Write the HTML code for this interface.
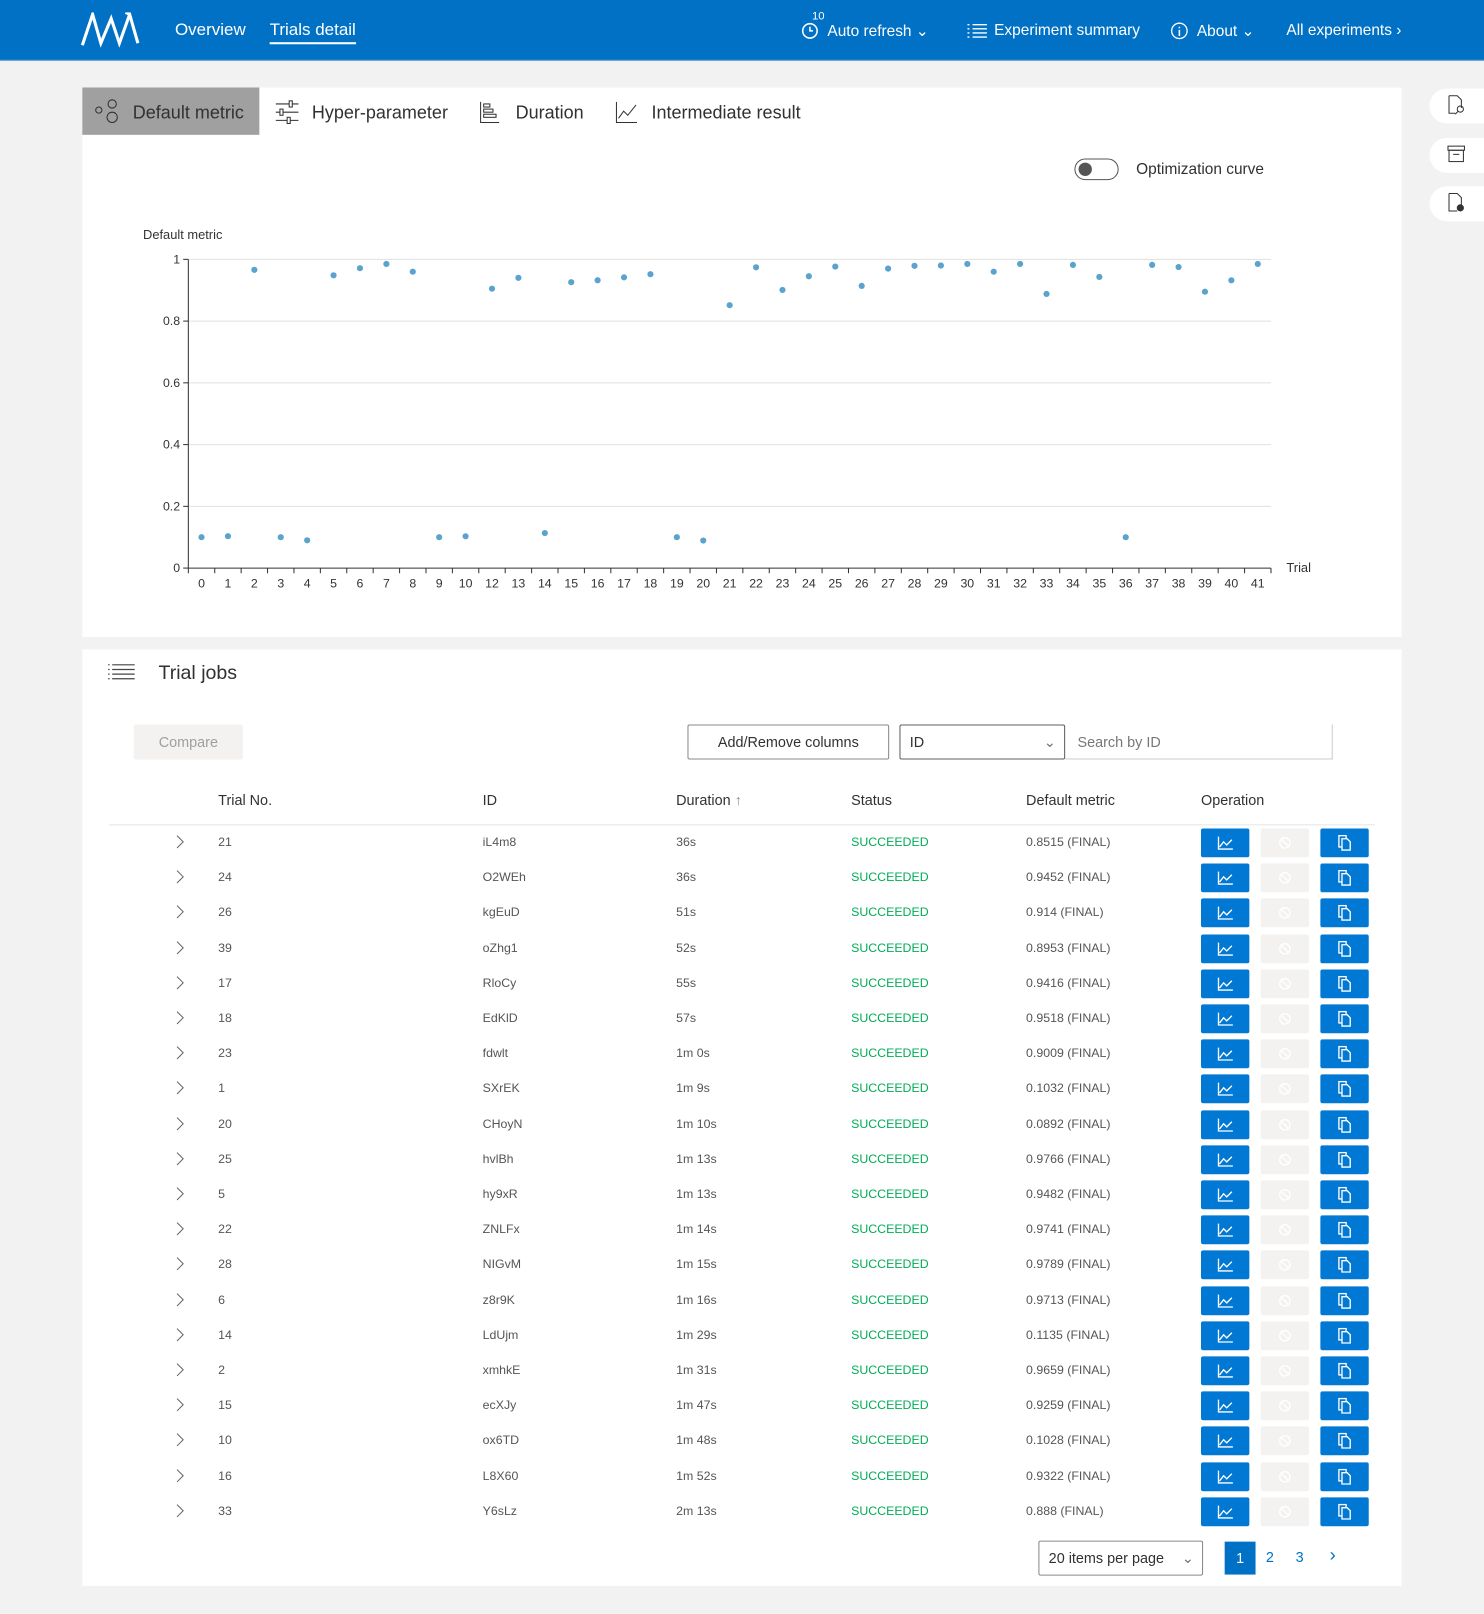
<!DOCTYPE html>
<html><head><meta charset="utf-8">
<style>
*{margin:0;padding:0;box-sizing:border-box}
html,body{width:1484px;height:1614px;overflow:hidden;background:#f2f2f2;font-family:"Liberation Sans",sans-serif}
#w{position:absolute;left:0;top:0;width:1442px;height:1568px;transform:scale(1.02913);transform-origin:0 0;background:#f2f2f2}
.a{position:absolute;white-space:nowrap}
.hdr{left:0;top:0;width:1442px;height:59px;background:#0071c5;border-bottom:1px solid #5b9fd6}
.ht{color:#fff;font-size:16px;top:20px}
.panel{background:#fff}
.th{font-size:14px;color:#323130;top:769px}
.td{font-size:12px;color:#555}
.ok{color:#00ad56}
.bb{background:#0078d4;border-radius:2px;width:47px;height:28px}
.bg{background:#f3f2f1;border-radius:2px;width:47px;height:28px}
.side{left:1389px;width:60px;height:34px;background:#fff;border-radius:17px 0 0 17px}
.tab{font-size:17.5px;color:#323130;top:99px}
</style></head><body><div id="w">
<div class="a hdr"></div>
<svg class="a" style="left:78px;top:12px" width="66" height="34" viewBox="0 0 66 34"><path d="M2 32 L12 2 L20 30 L30 6 L38 30 L48 2 L56 30 M48 2 L44 0" stroke="#fff" stroke-width="3" fill="none"/></svg>
<div class="a ht" style="left:170px;font-size:16.5px">Overview</div>
<div class="a ht" style="left:262px;font-size:16.5px">Trials detail</div>
<div class="a" style="left:262px;top:41px;width:84px;height:2px;background:#fff"></div>
<div class="a" style="left:789px;top:10px;color:#fff;font-size:11px">10</div>
<svg class="a" style="left:778px;top:21px" width="18" height="18"><circle cx="9" cy="9" r="7" stroke="#fff" stroke-width="1.5" fill="none"/><path d="M9 5v4h3" stroke="#fff" stroke-width="1.5" fill="none"/></svg>
<div class="a ht" style="left:804px;font-size:15px;top:21px">Auto refresh &#8964;</div>
<svg class="a" style="left:940px;top:22px" width="20" height="16"><path d="M0 2h2M5 2h14M0 6h2M5 6h14M0 10h2M5 10h14M0 14h2M5 14h14" stroke="#fff" stroke-width="1.3"/></svg>
<div class="a ht" style="left:966px;font-size:15px;top:21px">Experiment summary</div>
<svg class="a" style="left:1137px;top:21px" width="18" height="18"><circle cx="9" cy="9" r="7.5" stroke="#fff" stroke-width="1.3" fill="none"/><path d="M9 8v6M9 5v1.5" stroke="#fff" stroke-width="1.5"/></svg>
<div class="a ht" style="left:1163px;font-size:15px;top:21px">About &#8964;</div>
<div class="a ht" style="left:1250px;font-size:15px;top:21px">All experiments &#8250;</div>

<div class="a side" style="top:86px"></div><div class="a side" style="top:134px"></div><div class="a side" style="top:181px"></div>
<svg class="a" style="left:1406px;top:92px" width="18" height="20"><path d="M2 1h8l4 4v8M2 1v17h6" stroke="#333" fill="none"/><circle cx="13" cy="14" r="3" stroke="#333" fill="none"/><path d="M11 16l-3 3" stroke="#333"/></svg>
<svg class="a" style="left:1406px;top:141px" width="18" height="18"><rect x="1" y="1" width="16" height="4" stroke="#333" fill="none"/><rect x="2" y="5" width="14" height="11" stroke="#333" fill="none"/><path d="M6 9h6" stroke="#333"/></svg>
<svg class="a" style="left:1406px;top:187px" width="18" height="20"><path d="M2 1h8l4 4v7M2 1v17h8" stroke="#333" fill="none"/><circle cx="13" cy="15" r="3.5" fill="#333"/></svg>

<div class="a panel" style="left:80px;top:85px;width:1282px;height:534px"></div>
<div class="a" style="left:80px;top:85px;width:172px;height:46px;background:#a0a0a0"></div>
<svg class="a" style="left:92px;top:96px" width="26" height="26"><circle cx="4" cy="11" r="3" stroke="#323130" fill="none"/><circle cx="17" cy="5" r="4" stroke="#323130" fill="none"/><circle cx="17" cy="18" r="5" stroke="#323130" fill="none"/></svg>
<div class="a tab" style="left:129px">Default metric</div>
<svg class="a" style="left:267px;top:97px" width="24" height="24"><path d="M1 4h22M1 12h22M1 20h22" stroke="#323130"/><rect x="14" y="1" width="3" height="6" fill="#fff" stroke="#323130"/><rect x="5" y="9" width="3" height="6" fill="#fff" stroke="#323130"/><rect x="12" y="17" width="3" height="6" fill="#fff" stroke="#323130"/></svg>
<div class="a tab" style="left:303px">Hyper-parameter</div>
<svg class="a" style="left:466px;top:98px" width="20" height="22"><path d="M1 1v20h18" stroke="#323130" fill="none"/><rect x="4" y="3" width="6" height="3" stroke="#323130" fill="none"/><rect x="4" y="8" width="9" height="3" stroke="#323130" fill="none"/><rect x="4" y="13" width="12" height="3" stroke="#323130" fill="none"/></svg>
<div class="a tab" style="left:501px">Duration</div>
<svg class="a" style="left:598px;top:98px" width="22" height="22"><path d="M1 1v20h20M3 17l5-7 4 4 8-10" stroke="#323130" fill="none"/></svg>
<div class="a tab" style="left:633px">Intermediate result</div>
<div class="a" style="left:1044px;top:154px;width:43px;height:21px;border:1.5px solid #555;border-radius:11px"></div>
<div class="a" style="left:1048px;top:158px;width:13px;height:13px;border-radius:50%;background:#555"></div>
<div class="a" style="left:1104px;top:156px;font-size:15px;color:#323130">Optimization curve</div>

<svg class="a" style="left:0;top:0" width="1442" height="620" id="ch"></svg>

<div class="a panel" style="left:80px;top:631px;width:1282px;height:910px"></div>
<svg class="a" style="left:105px;top:645px" width="26" height="18"><path d="M0 1h1.5M4 1h22M0 5.5h1.5M4 5.5h22M0 10h1.5M4 10h22M0 14.5h1.5M4 14.5h22" stroke="#444" stroke-width="1.2"/></svg>
<div class="a" style="left:154px;top:644px;font-size:19px;color:#323130">Trial jobs</div>
<div class="a" style="left:130px;top:704px;width:106px;height:34px;background:#f3f2f1;border-radius:2px;color:#a19f9d;font-size:14px;text-align:center;line-height:34px">Compare</div>
<div class="a" style="left:668px;top:704px;width:196px;height:34px;border:1px solid #8a8886;border-radius:2px;color:#323130;font-size:14px;text-align:center;line-height:32px">Add/Remove columns</div>
<div class="a" style="left:874px;top:704px;width:161px;height:34px;border:1px solid #605e5c;border-radius:2px;color:#323130;font-size:14px;line-height:32px;padding-left:9px">ID<span style="position:absolute;right:8px;color:#777">&#8964;</span></div>
<div class="a" style="left:1035px;top:704px;width:260px;height:34px;border-right:1px solid #ccc;border-bottom:1px solid #ccc;color:#777;font-size:14px;line-height:34px;padding-left:12px">Search by ID</div>
<div class="a th" style="left:212px">Trial No.</div>
<div class="a th" style="left:469px">ID</div>
<div class="a th" style="left:657px">Duration <span style="color:#888">&#8593;</span></div>
<div class="a th" style="left:827px">Status</div>
<div class="a th" style="left:997px">Default metric</div>
<div class="a th" style="left:1167px">Operation</div>
<div class="a" style="left:106px;top:801px;width:1230px;height:1px;background:#e5e5e5"></div>
<div id="rows"></div>

<div class="a" style="left:1009px;top:1497px;width:160px;height:34px;border:1px solid #8a8886;border-radius:2px;font-size:14px;color:#323130;line-height:32px;padding-left:9px">20 items per page<span style="position:absolute;right:8px;color:#777">&#8964;</span></div>
<div class="a" style="left:1190px;top:1498px;width:30px;height:32px;background:#0071c5;color:#fff;font-size:14px;text-align:center;line-height:32px">1</div>
<div class="a" style="left:1230px;top:1505px;color:#0071c5;font-size:14px">2</div>
<div class="a" style="left:1259px;top:1505px;color:#0071c5;font-size:14px">3</div>
<div class="a" style="left:1292px;top:1501px;color:#0071c5;font-size:18px">&#8250;</div>
</div>
<script>
var s='',L=183,R=1235,T=252,B=552;
for(var k=0;k<=5;k++){var y=B-k*60;var lab=[0,0.2,0.4,0.6,0.8,1][k];
if(k>0)s+='<line x1="'+L+'" x2="'+R+'" y1="'+y+'" y2="'+y+'" stroke="#e0e0e0"/>';
s+='<line x1="'+(L-5)+'" x2="'+L+'" y1="'+y+'" y2="'+y+'" stroke="#333"/><text x="'+(L-8)+'" y="'+(y+4)+'" text-anchor="end" font-size="12" fill="#333">'+lab+'</text>';}
s+='<line x1="'+L+'" x2="'+L+'" y1="'+T+'" y2="'+B+'" stroke="#333"/><line x1="'+L+'" x2="'+R+'" y1="'+B+'" y2="'+B+'" stroke="#333"/>';
s+='<text x="139" y="232" font-size="12.5" fill="#333" font-family="Liberation Sans">Default metric</text><text x="1250" y="556" font-size="12.5" fill="#333">Trial</text>';
var tr=[0,1,2,3,4,5,6,7,8,9,10,12,13,14,15,16,17,18,19,20,21,22,23,24,25,26,27,28,29,30,31,32,33,34,35,36,37,38,39,40,41];
var v=[0.1,0.1032,0.9659,0.1,0.09,0.9482,0.9713,0.985,0.96,0.1,0.1028,0.905,0.94,0.1135,0.9259,0.9322,0.9416,0.9518,0.1,0.0892,0.8515,0.9741,0.9009,0.9452,0.9766,0.914,0.97,0.9789,0.98,0.985,0.96,0.985,0.888,0.982,0.943,0.1,0.982,0.975,0.8953,0.932,0.985];
var bw=(R-L)/41;
for(var i=0;i<=41;i++){var x=L+i*bw;s+='<line x1="'+x+'" x2="'+x+'" y1="'+B+'" y2="'+(B+5)+'" stroke="#333"/>';}
for(var i=0;i<41;i++){var x=L+bw/2+i*bw;s+='<text x="'+x+'" y="571" text-anchor="middle" font-size="12" fill="#333">'+tr[i]+'</text><circle cx="'+x+'" cy="'+(B-v[i]*300)+'" r="3" fill="#5ba3cf"/>';}
document.getElementById('ch').innerHTML=s;
var rows=[["21","iL4m8","36s","0.8515"],["24","O2WEh","36s","0.9452"],["26","kgEuD","51s","0.914"],["39","oZhg1","52s","0.8953"],["17","RloCy","55s","0.9416"],["18","EdKlD","57s","0.9518"],["23","fdwlt","1m 0s","0.9009"],["1","SXrEK","1m 9s","0.1032"],["20","CHoyN","1m 10s","0.0892"],["25","hvlBh","1m 13s","0.9766"],["5","hy9xR","1m 13s","0.9482"],["22","ZNLFx","1m 14s","0.9741"],["28","NIGvM","1m 15s","0.9789"],["6","z8r9K","1m 16s","0.9713"],["14","LdUjm","1m 29s","0.1135"],["2","xmhkE","1m 31s","0.9659"],["15","ecXJy","1m 47s","0.9259"],["10","ox6TD","1m 48s","0.1028"],["16","L8X60","1m 52s","0.9322"],["33","Y6sLz","2m 13s","0.888"]];
var h='';
rows.forEach(function(r,i){var y=818+i*34.2;var t=y-7;
h+='<svg class="a" style="left:171px;top:'+(y-7)+'px" width="8" height="14"><path d="M1 1l6 6-6 6" stroke="#666" fill="none"/></svg>';
h+='<div class="a td" style="left:212px;top:'+t+'px">'+r[0]+'</div><div class="a td" style="left:469px;top:'+t+'px">'+r[1]+'</div><div class="a td" style="left:657px;top:'+t+'px">'+r[2]+'</div><div class="a td ok" style="left:827px;top:'+t+'px">SUCCEEDED</div><div class="a td" style="left:997px;top:'+t+'px">'+r[3]+' (FINAL)</div>';
h+='<div class="a bb" style="left:1167px;top:'+(y-13)+'px"><svg width="47" height="28"><path d="M17 8v12h14M18 18l4-5 3 3 5-5" stroke="#fff" stroke-width="1.3" fill="none"/></svg></div>';
h+='<div class="a bg" style="left:1225px;top:'+(y-13)+'px"><svg width="47" height="28"><circle cx="23.5" cy="14" r="5" stroke="#fff" stroke-width="1.3" fill="none"/><line x1="20" y1="10.5" x2="27" y2="17.5" stroke="#fff" stroke-width="1.3"/></svg></div>';
h+='<div class="a bb" style="left:1283px;top:'+(y-13)+'px"><svg width="47" height="28"><rect x="18" y="7" width="7" height="11" stroke="#fff" stroke-width="1.3" fill="none"/><path d="M21 10h5l3 3v8h-8z" stroke="#fff" stroke-width="1.3" fill="#0078d4"/></svg></div>';
});
document.getElementById('rows').innerHTML=h;
</script>
</body></html>
